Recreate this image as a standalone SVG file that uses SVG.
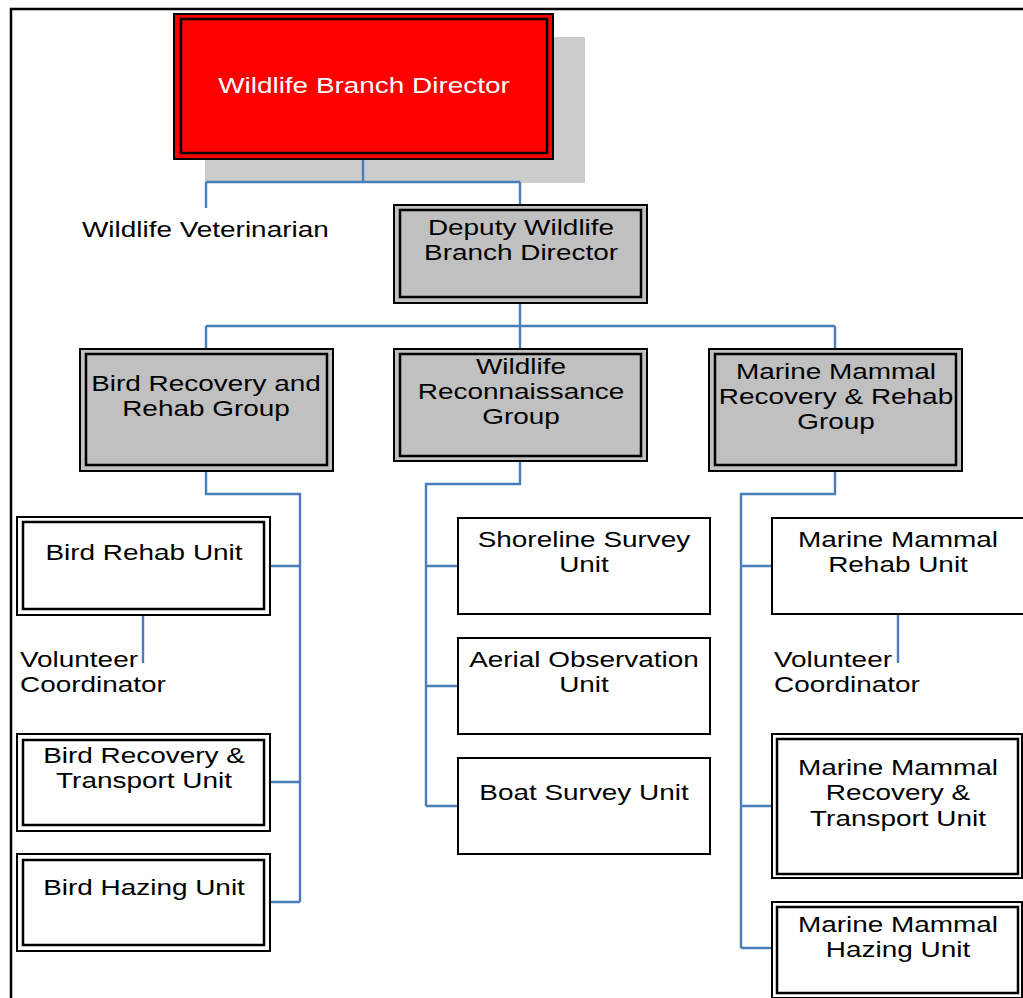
<svg xmlns="http://www.w3.org/2000/svg" width="1023" height="998" viewBox="0 0 1023 998">
<style>
text{font-family:"Liberation Sans",Arial,sans-serif;font-size:22px;fill:#000}
.c{text-anchor:middle}
.w{fill:#fff}
.ob{stroke:#000;stroke-width:2}
.ib{fill:none;stroke:#000;stroke-width:2.5}
.g{fill:#c0c0c0}
.u{fill:#fff}
#connectors{fill:none;stroke:#4a7ebb;stroke-width:2.4}
</style>
<rect width="1023" height="998" fill="#fff"/>
<path d="M11,998 V9 H1023" fill="none" stroke="#000" stroke-width="2.5"/>
<g id="director">
<rect x="205" y="37" width="380" height="146" fill="#cccccc"/>
<rect x="174" y="14" width="379" height="145" fill="#ff0000" class="ob"/>
<rect x="181" y="19" width="366" height="134" class="ib"/>
<text class="c w" transform="translate(364 0) scale(1.27 1)" x="0" y="93">Wildlife Branch Director</text>
</g>
<g id="veterinarian">
<text transform="translate(82 0) scale(1.27 1)" x="0" y="237">Wildlife Veterinarian</text>
</g>
<g id="deputy">
<rect x="394" y="205" width="253" height="98" class="ob g"/>
<rect x="400" y="210" width="241" height="87" class="ib"/>
<text class="c" transform="translate(521 0) scale(1.27 1)" x="0" y="235">Deputy Wildlife</text>
<text class="c" transform="translate(521 0) scale(1.27 1)" x="0" y="260">Branch Director</text>
</g>
<g id="bird-group">
<rect x="80" y="349" width="253" height="122" class="ob g"/>
<rect x="86" y="354" width="241" height="111" class="ib"/>
<text class="c" transform="translate(206 0) scale(1.27 1)" x="0" y="391">Bird Recovery and</text>
<text class="c" transform="translate(206 0) scale(1.27 1)" x="0" y="416">Rehab Group</text>
</g>
<g id="recon-group">
<rect x="394" y="349" width="253" height="112" class="ob g"/>
<rect x="400" y="354" width="241" height="102" class="ib"/>
<text class="c" transform="translate(521 0) scale(1.27 1)" x="0" y="374">Wildlife</text>
<text class="c" transform="translate(521 0) scale(1.27 1)" x="0" y="399">Reconnaissance</text>
<text class="c" transform="translate(521 0) scale(1.27 1)" x="0" y="424">Group</text>
</g>
<g id="marine-group">
<rect x="709" y="349" width="253" height="122" class="ob g"/>
<rect x="715" y="354" width="241" height="111" class="ib"/>
<text class="c" transform="translate(836 0) scale(1.27 1)" x="0" y="379">Marine Mammal</text>
<text class="c" transform="translate(836 0) scale(1.27 1)" x="0" y="404">Recovery &amp; Rehab</text>
<text class="c" transform="translate(836 0) scale(1.27 1)" x="0" y="429">Group</text>
</g>
<g id="bird-rehab">
<rect x="17" y="517" width="253" height="98" class="ob u"/>
<rect x="23" y="522" width="241" height="87" class="ib"/>
<text class="c" transform="translate(144 0) scale(1.27 1)" x="0" y="560">Bird Rehab Unit</text>
</g>
<g id="volunteer-left">
<text transform="translate(20 0) scale(1.27 1)" x="0" y="667">Volunteer</text>
<text transform="translate(20 0) scale(1.27 1)" x="0" y="692">Coordinator</text>
</g>
<g id="bird-recovery">
<rect x="17" y="734" width="253" height="97" class="ob u"/>
<rect x="23" y="740" width="241" height="85" class="ib"/>
<text class="c" transform="translate(144 0) scale(1.27 1)" x="0" y="763">Bird Recovery &amp;</text>
<text class="c" transform="translate(144 0) scale(1.27 1)" x="0" y="788">Transport Unit</text>
</g>
<g id="bird-hazing">
<rect x="17" y="854" width="253" height="97" class="ob u"/>
<rect x="23" y="860" width="241" height="85" class="ib"/>
<text class="c" transform="translate(144 0) scale(1.27 1)" x="0" y="895">Bird Hazing Unit</text>
</g>
<g id="shoreline">
<rect x="458" y="518" width="252" height="96" class="ob u"/>
<text class="c" transform="translate(584 0) scale(1.27 1)" x="0" y="547">Shoreline Survey</text>
<text class="c" transform="translate(584 0) scale(1.27 1)" x="0" y="572">Unit</text>
</g>
<g id="aerial">
<rect x="458" y="638" width="252" height="96" class="ob u"/>
<text class="c" transform="translate(584 0) scale(1.27 1)" x="0" y="667">Aerial Observation</text>
<text class="c" transform="translate(584 0) scale(1.27 1)" x="0" y="692">Unit</text>
</g>
<g id="boat">
<rect x="458" y="758" width="252" height="96" class="ob u"/>
<text class="c" transform="translate(584 0) scale(1.27 1)" x="0" y="800">Boat Survey Unit</text>
</g>
<g id="mm-rehab">
<rect x="772" y="518" width="252" height="96" class="ob u"/>
<text class="c" transform="translate(898 0) scale(1.27 1)" x="0" y="547">Marine Mammal</text>
<text class="c" transform="translate(898 0) scale(1.27 1)" x="0" y="572">Rehab Unit</text>
</g>
<g id="volunteer-right">
<text transform="translate(774 0) scale(1.27 1)" x="0" y="667">Volunteer</text>
<text transform="translate(774 0) scale(1.27 1)" x="0" y="692">Coordinator</text>
</g>
<g id="mm-recovery">
<rect x="772" y="734" width="250" height="144" class="ob u"/>
<rect x="777" y="739" width="241" height="135" class="ib"/>
<text class="c" transform="translate(898 0) scale(1.27 1)" x="0" y="775">Marine Mammal</text>
<text class="c" transform="translate(898 0) scale(1.27 1)" x="0" y="800">Recovery &amp;</text>
<text class="c" transform="translate(898 0) scale(1.27 1)" x="0" y="826">Transport Unit</text>
</g>
<g id="mm-hazing">
<rect x="772" y="902" width="250" height="96" class="ob u"/>
<rect x="777" y="907" width="241" height="86" class="ib"/>
<text class="c" transform="translate(898 0) scale(1.27 1)" x="0" y="932">Marine Mammal</text>
<text class="c" transform="translate(898 0) scale(1.27 1)" x="0" y="957">Hazing Unit</text>
</g>
<g id="connectors">
<path d="M363,160 V182 M206,182 H520 M206,182 V208 M520,182 V204"/>
<path d="M520,304 V326 M206,326 H835 M206,326 V348 M520,326 V348 M835,326 V348"/>
<path d="M206,472 V494 H300 V902 M271,566 H300 M271,782 H300 M271,902 H300"/>
<path d="M143,616 V663"/>
<path d="M520,462 V484 H426 V806 M426,566 H457 M426,686 H457 M426,806 H457"/>
<path d="M835,472 V494 H741 V948 M741,566 H771 M741,806 H771 M741,948 H771"/>
<path d="M898,615 V663"/>
</g>
</svg>
